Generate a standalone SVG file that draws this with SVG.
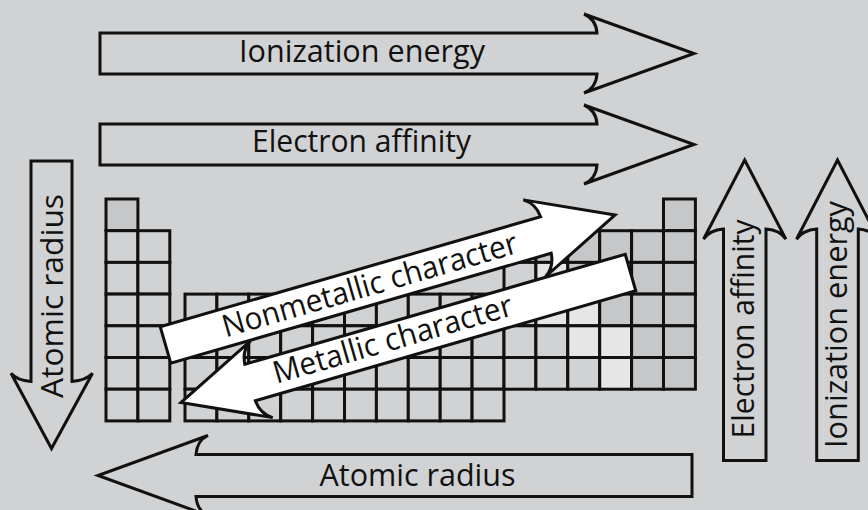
<svg xmlns="http://www.w3.org/2000/svg" xmlns:xlink="http://www.w3.org/1999/xlink" width="868" height="510" viewBox="0 0 868 510">
  <style>
    .bg { fill: #d1d2d4; }
    .cell { stroke: #111; stroke-width: 3; }
    .m { fill: #d1d2d4; }
    .n { fill: #c6c7c9; }
    .d { fill: #e6e6e6; }
    .arrow { fill: #d1d2d4; stroke: #111; stroke-width: 3; stroke-linejoin: miter; }
    .warrow { fill: #ffffff; stroke: #111; stroke-width: 3; stroke-linejoin: miter; }
    .lbl { font-family: "Open Sans", "Noto Sans", "DejaVu Sans", sans-serif; font-size: 31px; fill: #111; }
  </style>
  <defs>
    <rect id="c" width="31.9" height="31.7"/>
    <path id="diag" d="M0,-19 H396 Q395,-33 384,-40 L468,0 L384,40 Q395,33 396,19 H0 Z"/>
  </defs>
  <rect class="bg" x="0" y="0" width="868" height="510"/>

  <g id="periodic-table" class="cell">
    <!-- s-block -->
    <use xlink:href="#c" class="n" x="106" y="199"/>
    <use xlink:href="#c" class="m" x="106" y="230.7"/>
    <use xlink:href="#c" class="m" x="106" y="262.4"/>
    <use xlink:href="#c" class="m" x="106" y="294.1"/>
    <use xlink:href="#c" class="m" x="106" y="325.8"/>
    <use xlink:href="#c" class="m" x="106" y="357.5"/>
    <use xlink:href="#c" class="m" x="106" y="389.2"/>
    <use xlink:href="#c" class="m" x="137.9" y="230.7"/>
    <use xlink:href="#c" class="m" x="137.9" y="262.4"/>
    <use xlink:href="#c" class="m" x="137.9" y="294.1"/>
    <use xlink:href="#c" class="m" x="137.9" y="325.8"/>
    <use xlink:href="#c" class="m" x="137.9" y="357.5"/>
    <use xlink:href="#c" class="m" x="137.9" y="389.2"/>
    <!-- d-block row 4 -->
    <use xlink:href="#c" class="m" x="185" y="294.1"/>
    <use xlink:href="#c" class="m" x="216.9" y="294.1"/>
    <use xlink:href="#c" class="m" x="248.8" y="294.1"/>
    <use xlink:href="#c" class="m" x="280.7" y="294.1"/>
    <use xlink:href="#c" class="m" x="312.6" y="294.1"/>
    <use xlink:href="#c" class="m" x="344.5" y="294.1"/>
    <use xlink:href="#c" class="m" x="376.4" y="294.1"/>
    <use xlink:href="#c" class="m" x="408.3" y="294.1"/>
    <use xlink:href="#c" class="m" x="440.2" y="294.1"/>
    <use xlink:href="#c" class="m" x="472.1" y="294.1"/>
    <!-- d-block row 5 -->
    <use xlink:href="#c" class="m" x="185" y="325.8"/>
    <use xlink:href="#c" class="m" x="216.9" y="325.8"/>
    <use xlink:href="#c" class="m" x="248.8" y="325.8"/>
    <use xlink:href="#c" class="m" x="280.7" y="325.8"/>
    <use xlink:href="#c" class="m" x="312.6" y="325.8"/>
    <use xlink:href="#c" class="m" x="344.5" y="325.8"/>
    <use xlink:href="#c" class="m" x="376.4" y="325.8"/>
    <use xlink:href="#c" class="m" x="408.3" y="325.8"/>
    <use xlink:href="#c" class="m" x="440.2" y="325.8"/>
    <use xlink:href="#c" class="m" x="472.1" y="325.8"/>
    <!-- d-block row 6 -->
    <use xlink:href="#c" class="m" x="185" y="357.5"/>
    <use xlink:href="#c" class="m" x="216.9" y="357.5"/>
    <use xlink:href="#c" class="m" x="248.8" y="357.5"/>
    <use xlink:href="#c" class="m" x="280.7" y="357.5"/>
    <use xlink:href="#c" class="m" x="312.6" y="357.5"/>
    <use xlink:href="#c" class="m" x="344.5" y="357.5"/>
    <use xlink:href="#c" class="m" x="376.4" y="357.5"/>
    <use xlink:href="#c" class="m" x="408.3" y="357.5"/>
    <use xlink:href="#c" class="m" x="440.2" y="357.5"/>
    <use xlink:href="#c" class="m" x="472.1" y="357.5"/>
    <!-- d-block row 7 -->
    <use xlink:href="#c" class="m" x="185" y="389.2"/>
    <use xlink:href="#c" class="m" x="216.9" y="389.2"/>
    <use xlink:href="#c" class="m" x="248.8" y="389.2"/>
    <use xlink:href="#c" class="m" x="280.7" y="389.2"/>
    <use xlink:href="#c" class="m" x="312.6" y="389.2"/>
    <use xlink:href="#c" class="m" x="344.5" y="389.2"/>
    <use xlink:href="#c" class="m" x="376.4" y="389.2"/>
    <use xlink:href="#c" class="m" x="408.3" y="389.2"/>
    <use xlink:href="#c" class="m" x="440.2" y="389.2"/>
    <use xlink:href="#c" class="m" x="472.1" y="389.2"/>
    <!-- p-block -->
    <use xlink:href="#c" class="n" x="663.5" y="199"/>
    <use xlink:href="#c" class="d" x="504" y="230.7"/>
    <use xlink:href="#c" class="n" x="535.9" y="230.7"/>
    <use xlink:href="#c" class="n" x="567.8" y="230.7"/>
    <use xlink:href="#c" class="n" x="599.7" y="230.7"/>
    <use xlink:href="#c" class="n" x="631.6" y="230.7"/>
    <use xlink:href="#c" class="n" x="663.5" y="230.7"/>
    <use xlink:href="#c" class="m" x="504" y="262.4"/>
    <use xlink:href="#c" class="d" x="535.9" y="262.4"/>
    <use xlink:href="#c" class="n" x="567.8" y="262.4"/>
    <use xlink:href="#c" class="n" x="599.7" y="262.4"/>
    <use xlink:href="#c" class="n" x="631.6" y="262.4"/>
    <use xlink:href="#c" class="n" x="663.5" y="262.4"/>
    <use xlink:href="#c" class="m" x="504" y="294.1"/>
    <use xlink:href="#c" class="d" x="535.9" y="294.1"/>
    <use xlink:href="#c" class="d" x="567.8" y="294.1"/>
    <use xlink:href="#c" class="n" x="599.7" y="294.1"/>
    <use xlink:href="#c" class="n" x="631.6" y="294.1"/>
    <use xlink:href="#c" class="n" x="663.5" y="294.1"/>
    <use xlink:href="#c" class="m" x="504" y="325.8"/>
    <use xlink:href="#c" class="m" x="535.9" y="325.8"/>
    <use xlink:href="#c" class="d" x="567.8" y="325.8"/>
    <use xlink:href="#c" class="d" x="599.7" y="325.8"/>
    <use xlink:href="#c" class="n" x="631.6" y="325.8"/>
    <use xlink:href="#c" class="n" x="663.5" y="325.8"/>
    <use xlink:href="#c" class="m" x="504" y="357.5"/>
    <use xlink:href="#c" class="m" x="535.9" y="357.5"/>
    <use xlink:href="#c" class="m" x="567.8" y="357.5"/>
    <use xlink:href="#c" class="d" x="599.7" y="357.5"/>
    <use xlink:href="#c" class="n" x="631.6" y="357.5"/>
    <use xlink:href="#c" class="n" x="663.5" y="357.5"/>
  </g>

  <g id="arrow-ionization-energy-top">
    <path class="arrow" d="M100,33 H597 Q596,19 584,14 L694,53.5 L584,93 Q596,88 597,74 H100 Z"/>
    <text class="lbl" x="239" y="62" textLength="246" lengthAdjust="spacingAndGlyphs">Ionization energy</text>
  </g>

  <g id="arrow-electron-affinity-top">
    <path class="arrow" d="M100,124 H597 Q596,110 584,105 L694,144.5 L584,184 Q596,179 597,165 H100 Z"/>
    <text class="lbl" x="252" y="152" textLength="219" lengthAdjust="spacingAndGlyphs">Electron affinity</text>
  </g>

  <g id="arrow-atomic-radius-bottom">
    <path class="arrow" d="M692,454.5 H196 Q197,440.5 208,435.5 L98,475.5 L208,515.5 Q197,510.5 196,496.5 H692 Z"/>
    <text class="lbl" x="319.5" y="486" textLength="196" lengthAdjust="spacingAndGlyphs">Atomic radius</text>
  </g>

  <g id="arrow-atomic-radius-left">
    <path class="arrow" d="M31,161 H72 V381.5 Q86,380.5 92.5,373.3 L51.5,448.5 L11,373.3 Q17,380.5 31,381.5 Z"/>
    <text class="lbl" transform="translate(63.3,398) rotate(-90)" x="0" y="0" textLength="204" lengthAdjust="spacingAndGlyphs">Atomic radius</text>
  </g>

  <g id="arrow-electron-affinity-right">
    <path class="arrow" d="M723.5,460.5 V229 Q709.5,230 703.5,239.3 L744.7,160 L785.9,239.3 Q780,230 766,229 V460.5 Z"/>
    <text class="lbl" transform="translate(754,438.5) rotate(-90)" x="0" y="0" textLength="219" lengthAdjust="spacingAndGlyphs">Electron affinity</text>
  </g>

  <g id="arrow-ionization-energy-right">
    <path class="arrow" d="M816.7,460.5 V229 Q802.7,230 796.5,239.3 L837.5,160 L878.5,239.3 Q872.3,230 858.3,229 V460.5 Z"/>
    <text class="lbl" transform="translate(846.7,448) rotate(-90)" x="0" y="0" textLength="247" lengthAdjust="spacingAndGlyphs">Ionization energy</text>
  </g>

  <g id="arrow-metallic-character">
    <use xlink:href="#diag" class="warrow" transform="translate(630.5,272.5) rotate(163.87)"/>
    <text class="lbl" transform="translate(276.5,383.8) rotate(-16.13)" x="0" y="0" textLength="248" lengthAdjust="spacingAndGlyphs">Metallic character</text>
  </g>

  <g id="arrow-nonmetallic-character">
    <use xlink:href="#diag" class="warrow" transform="translate(165.5,345) rotate(-16.13)"/>
    <text class="lbl" transform="translate(225.7,337.5) rotate(-16.13)" x="0" y="0" textLength="306" lengthAdjust="spacingAndGlyphs">Nonmetallic character</text>
  </g>
</svg>
